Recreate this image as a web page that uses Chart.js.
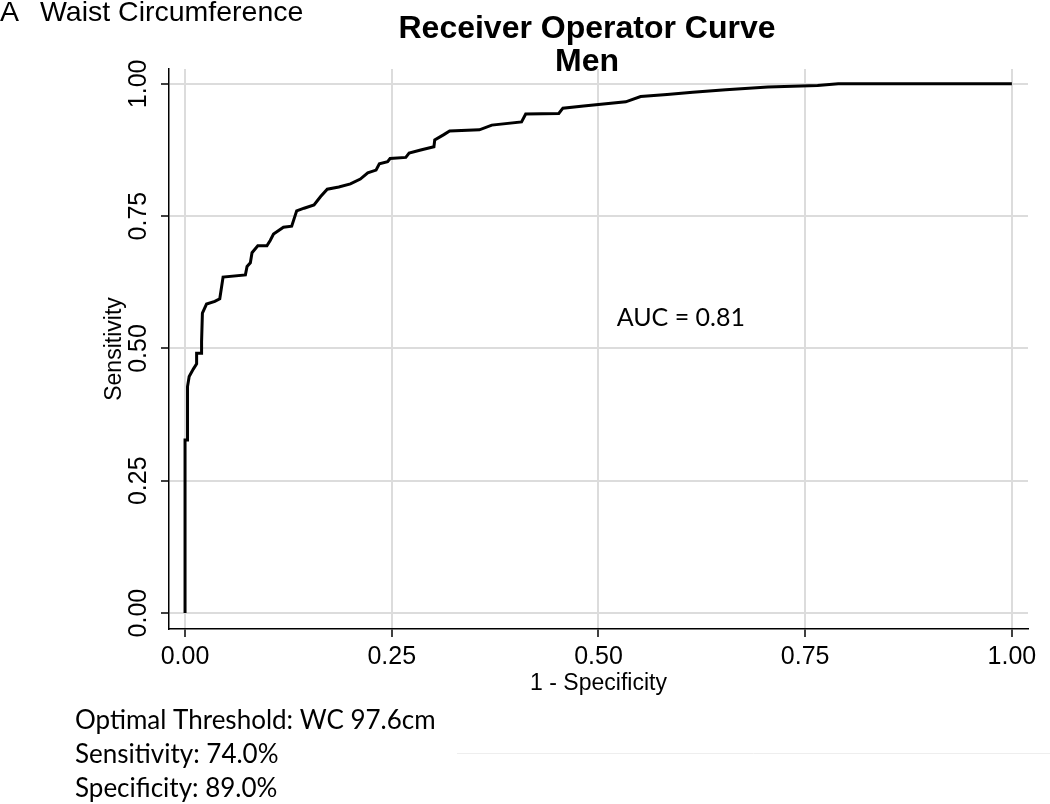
<!DOCTYPE html>
<html>
<head>
<meta charset="utf-8">
<title>ROC Men</title>
<script src="https://cdn.jsdelivr.net/npm/chart.js@4.4.1/dist/chart.umd.min.js"></script>
<style>
  html, body { margin: 0; padding: 0; background: #fff; }
  .chart { width: 1050px; height: 804px; }
</style>
</head>
<body>
<div class="chart">
  <canvas id="roc" width="1050" height="804"></canvas>
</div>
<script>
// 1 - specificity / sensitivity
const fpr = [0, 0, 0.003, 0.003, 0.005, 0.010, 0.014, 0.014, 0.020, 0.020, 0.021, 0.026, 0.036, 0.042, 0.046,
  0.073, 0.075, 0.079, 0.081, 0.088, 0.099, 0.103, 0.107, 0.119, 0.129, 0.135, 0.144, 0.156, 0.164, 0.172,
  0.186, 0.200, 0.212, 0.221, 0.231, 0.235, 0.245, 0.248, 0.267, 0.271, 0.285, 0.301, 0.302, 0.313, 0.320,
  0.356, 0.371, 0.407, 0.412, 0.452, 0.457, 0.482, 0.533, 0.551, 0.583, 0.614, 0.654, 0.705, 0.765, 0.790, 1.0];
const tpr = [0, 0.327, 0.327, 0.428, 0.447, 0.461, 0.471, 0.491, 0.491, 0.513, 0.567, 0.584, 0.589, 0.594, 0.635,
  0.639, 0.655, 0.662, 0.681, 0.694, 0.694, 0.704, 0.716, 0.729, 0.731, 0.760, 0.765, 0.771, 0.787, 0.801,
  0.805, 0.811, 0.820, 0.832, 0.837, 0.849, 0.853, 0.859, 0.861, 0.869, 0.875, 0.881, 0.894, 0.904, 0.911,
  0.913, 0.922, 0.928, 0.943, 0.944, 0.954, 0.958, 0.966, 0.976, 0.980, 0.984, 0.989, 0.994, 0.997, 1.0, 1.0];

const xTicks = [0, 0.25, 0.5, 0.75, 1];
const yTicks = [0, 0.25, 0.5, 0.75, 1];

const notes = ['Optimal Threshold: WC 97.6cm', 'Sensitivity: 74.0%', 'Specificity: 89.0%'];
const aucText = 'AUC = 0.81';

const points = fpr.map((x, i) => ({ x: x, y: tpr[i] }));

const ARIAL = '"Liberation Sans", Arial, sans-serif';

// texts that Stata puts around the plot
const extras = {
  id: 'extras',
  afterDraw(chart) {
    const ctx = chart.ctx;
    const ys = chart.scales.y, xs = chart.scales.x;
    ctx.save();
    ctx.fillStyle = '#000';

    // y tick labels, rotated like the original
    ctx.font = '25px ' + ARIAL;
    ctx.textAlign = 'center';
    ctx.textBaseline = 'middle';
    yTicks.forEach(v => {
      ctx.save();
      ctx.translate(139, ys.getPixelForValue(v));
      ctx.rotate(-Math.PI / 2);
      ctx.fillText(v.toFixed(2), 0, 0);
      ctx.restore();
    });

    // header
    ctx.textAlign = 'left';
    ctx.font = '28.5px ' + ARIAL;
    ctx.fillText('A', 0, 13);
    ctx.fillText('Waist Circumference', 40, 13);

    ctx.textAlign = 'center';
    ctx.font = 'bold 32px ' + ARIAL;
    ctx.fillText('Receiver Operator Curve', 587, 29);
    ctx.fillText('Men', 587, 62);

    // AUC
    ctx.textAlign = 'left';
    ctx.font = '25px Lato, "Open Sans", sans-serif';
    ctx.fillText(aucText, xs.getPixelForValue(0.522), ys.getPixelForValue(0.558));

    // notes below
    ctx.font = '26px Lato, "Open Sans", sans-serif';
    notes.forEach((t, i) => ctx.fillText(t, 75, 721 + i * 34));

    // faint rule at bottom right
    ctx.strokeStyle = '#eeeeee';
    ctx.lineWidth = 1;
    ctx.beginPath();
    ctx.moveTo(457, 753.5);
    ctx.lineTo(1050, 753.5);
    ctx.stroke();
    ctx.restore();
  }
};

const config = {
  type: 'line',
  data: {
    datasets: [{
      data: points,
      borderColor: '#000',
      borderWidth: 3,
      pointRadius: 0,
      tension: 0,
      fill: false
    }]
  },
  plugins: [extras],
  options: {
    responsive: false,
    animation: false,
    layout: { padding: { left: 0, top: 69, right: 22, bottom: 0 } },
    plugins: {
      legend: { display: false },
      tooltip: { enabled: false },
      title: { display: false }
    },
    scales: {
      x: {
        type: 'linear',
        min: -0.0194,
        max: 1.0195,
        afterBuildTicks: s => { s.ticks = xTicks.map(v => ({ value: v })); },
        afterFit: s => { s.height = 175; },
        border: { display: true, color: '#000', width: 1.5 },
        grid: { color: '#dcdcdc', lineWidth: 2, tickColor: '#000', tickWidth: 1.5, tickLength: 8 },
        ticks: {
          color: '#000',
          padding: 5,
          maxRotation: 0,
          font: { family: ARIAL, size: 25 },
          callback: v => v.toFixed(2)
        },
        title: {
          display: true,
          text: '1 - Specificity',
          color: '#000',
          font: { family: ARIAL, size: 23 },
          padding: { top: 0, bottom: 107 }
        }
      },
      y: {
        type: 'linear',
        min: -0.030,
        max: 1.028,
        afterBuildTicks: s => { s.ticks = yTicks.map(v => ({ value: v })); },
        afterFit: s => { s.width = 169; },
        border: { display: true, color: '#000', width: 1.5 },
        grid: { color: '#dcdcdc', lineWidth: 2, tickColor: '#000', tickWidth: 1.5, tickLength: 8 },
        ticks: { display: false },
        title: {
          display: true,
          text: 'Sensitivity',
          color: '#000',
          font: { family: ARIAL, size: 23 },
          padding: { top: 101, bottom: 0 }
        }
      }
    }
  }
};

const rocChart = new Chart(document.getElementById('roc'), config);
</script>
</body>
</html>
